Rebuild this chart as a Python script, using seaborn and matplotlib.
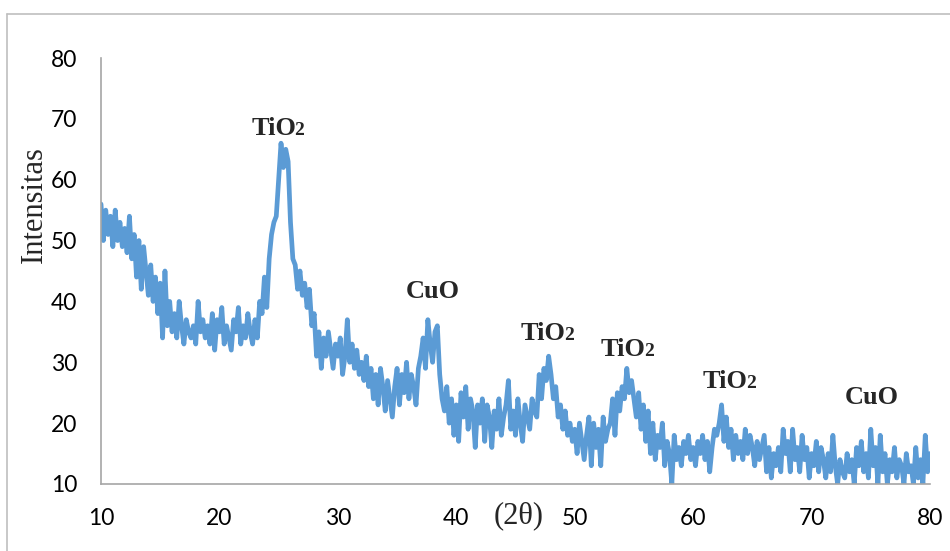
import numpy as np
import pandas as pd
import matplotlib
matplotlib.use('Agg')
import matplotlib.pyplot as plt
from matplotlib.lines import Line2D
import seaborn as sns

# XRD intensity, 5 readings per degree (0.2 deg step)
intensity_rows = [
    [56, 50, 55, 51, 54],  # 10
    [49, 55, 50, 53, 49],  # 11
    [52, 48, 54, 47, 51],  # 12
    [44, 50, 42, 49, 45],  # 13
    [41, 46, 40, 44, 38],  # 14
    [43, 34, 45, 36, 40],  # 15
    [35, 38, 34, 40, 36],  # 16
    [33, 37, 35, 34, 36],  # 17
    [33, 40, 35, 37, 34],  # 18
    [36, 33, 38, 32, 37],  # 19
    [35, 39, 33, 36, 34],  # 20
    [32, 37, 35, 39, 33],  # 21
    [36, 34, 38, 35, 33],  # 22
    [37, 34, 40, 38, 44],  # 23
    [39, 47, 51, 53, 54],  # 24
    [60, 66, 62, 65, 63],  # 25
    [53, 47, 46, 42, 45],  # 26
    [41, 43, 39, 42, 36],  # 27
    [38, 31, 35, 29, 34],  # 28
    [31, 35, 32, 29, 33],  # 29
    [31, 34, 28, 31, 37],  # 30
    [30, 33, 29, 32, 28],  # 31
    [30, 27, 31, 26, 29],  # 32
    [24, 28, 23, 29, 26],  # 33
    [22, 27, 24, 21, 26],  # 34
    [29, 23, 28, 25, 30],  # 35
    [24, 28, 26, 23, 29],  # 36
    [31, 34, 29, 37, 33],  # 37
    [30, 35, 36, 28, 24],  # 38
    [22, 26, 20, 24, 18],  # 39
    [23, 17, 25, 21, 26],  # 40
    [19, 24, 22, 16, 23],  # 41
    [20, 24, 17, 23, 21],  # 42
    [16, 22, 19, 24, 18],  # 43
    [21, 23, 27, 19, 22],  # 44
    [18, 24, 20, 17, 23],  # 45
    [21, 19, 24, 22, 21],  # 46
    [28, 24, 29, 27, 31],  # 47
    [28, 24, 26, 21, 23],  # 48
    [19, 22, 18, 20, 17],  # 49
    [19, 15, 20, 17, 14],  # 50
    [18, 21, 13, 20, 16],  # 51
    [19, 13, 21, 17, 19],  # 52
    [20, 24, 18, 25, 22],  # 53
    [26, 24, 29, 25, 27],  # 54
    [24, 21, 25, 19, 23],  # 55
    [17, 22, 15, 20, 14],  # 56
    [18, 16, 20, 13, 17],  # 57
    [15, 10, 18, 14, 16],  # 58
    [13, 17, 15, 18, 14],  # 59
    [16, 13, 17, 15, 18],  # 60
    [14, 17, 12, 16, 19],  # 61
    [18, 20, 23, 17, 21],  # 62
    [16, 19, 14, 18, 15],  # 63
    [17, 14, 19, 15, 18],  # 64
    [16, 13, 17, 14, 16],  # 65
    [18, 12, 16, 11, 15],  # 66
    [13, 16, 12, 19, 15],  # 67
    [17, 12, 19, 14, 16],  # 68
    [12, 18, 14, 16, 11],  # 69
    [15, 13, 17, 12, 16],  # 70
    [14, 11, 15, 12, 18],  # 71
    [13, 10, 14, 12, 11],  # 72
    [15, 12, 14, 10, 16],  # 73
    [13, 17, 12, 15, 11],  # 74
    [19, 13, 16, 10, 18],  # 75
    [12, 15, 10, 14, 12],  # 76
    [16, 11, 14, 13, 10],  # 77
    [15, 12, 13, 10, 16],  # 78
    [11, 14, 10, 18, 12],  # 79
    [15],                  # 80
]
intensity = [v for row in intensity_rows for v in row]
two_theta = np.round(10 + 0.2 * np.arange(len(intensity)), 1)

# peak labels: compound, trailing subscript digit, centre x and baseline y
peak_base = ["TiO", "CuO", "TiO", "TiO", "TiO", "CuO"]
peak_sub = ["2", "", "2", "2", "2", ""]
peak_x = [25.0, 38.0, 47.75, 54.5, 63.1, 75.1]
peak_y = [67.3, 40.6, 33.7, 31.0, 25.8, 23.1]

x_ticks = [10, 20, 30, 40, 50, 60, 70, 80]
y_ticks = [10, 20, 30, 40, 50, 60, 70, 80]

df = pd.DataFrame({"two_theta": two_theta, "intensity": intensity})

sns.set_style("white")
plt.rcParams['font.family'] = ['Lato', 'DejaVu Sans']
serif = "Liberation Serif"

fig = plt.figure(figsize=(9.5, 5.51), dpi=100)
ax = fig.add_axes([101 / 950, 1 - 484 / 551, 829 / 950, 426 / 551])

sns.lineplot(data=df, x="two_theta", y="intensity", ax=ax,
             color="#5b9bd5", linewidth=3.4)

ax.set_xlim(10, 80)
ax.set_ylim(10, 80)
ax.set_xticks(x_ticks)
ax.set_yticks(y_ticks)
ax.set_xlabel("")
ax.set_ylabel("Intensitas", family=serif, fontsize=22)
ax.yaxis.set_label_coords(-0.063, 0.655)

for side in ["top", "right"]:
    ax.spines[side].set_visible(False)
for side in ["left", "bottom"]:
    ax.spines[side].set_color("#a6a6a6")
    ax.spines[side].set_linewidth(1.2)
ax.tick_params(axis="both", direction="out", length=6, width=1.2,
               color="#a6a6a6", labelsize=16.5, labelcolor="black")
ax.tick_params(axis="x", pad=11)
ax.tick_params(axis="y", pad=11)

for base, sub, px, py in zip(peak_base, peak_sub, peak_x, peak_y):
    if sub:
        ax.annotate(base, xy=(px, py), xytext=(12.5, 0), textcoords="offset points",
                    ha="right", va="baseline", fontsize=19, fontweight="bold",
                    family=serif)
        ax.annotate(sub, xy=(px, py), xytext=(11.5, 0), textcoords="offset points",
                    ha="left", va="baseline", fontsize=14, fontweight="bold",
                    family=serif)
    else:
        ax.text(px, py, base, ha="center", va="baseline", fontsize=19,
                fontweight="bold", family=serif)

fig.text(519 / 950, 1 - 516 / 551, "(2θ)", ha="center", va="center",
         fontsize=22, family=serif)

# chart area border
fig.add_artist(Line2D([7 / 950, 1.0], [1 - 14 / 551, 1 - 14 / 551],
                      color="#bfbfbf", linewidth=1.2))
fig.add_artist(Line2D([7 / 950, 7 / 950], [0, 1 - 14 / 551],
                      color="#bfbfbf", linewidth=1.2))

fig.savefig("out.png", dpi=100)
